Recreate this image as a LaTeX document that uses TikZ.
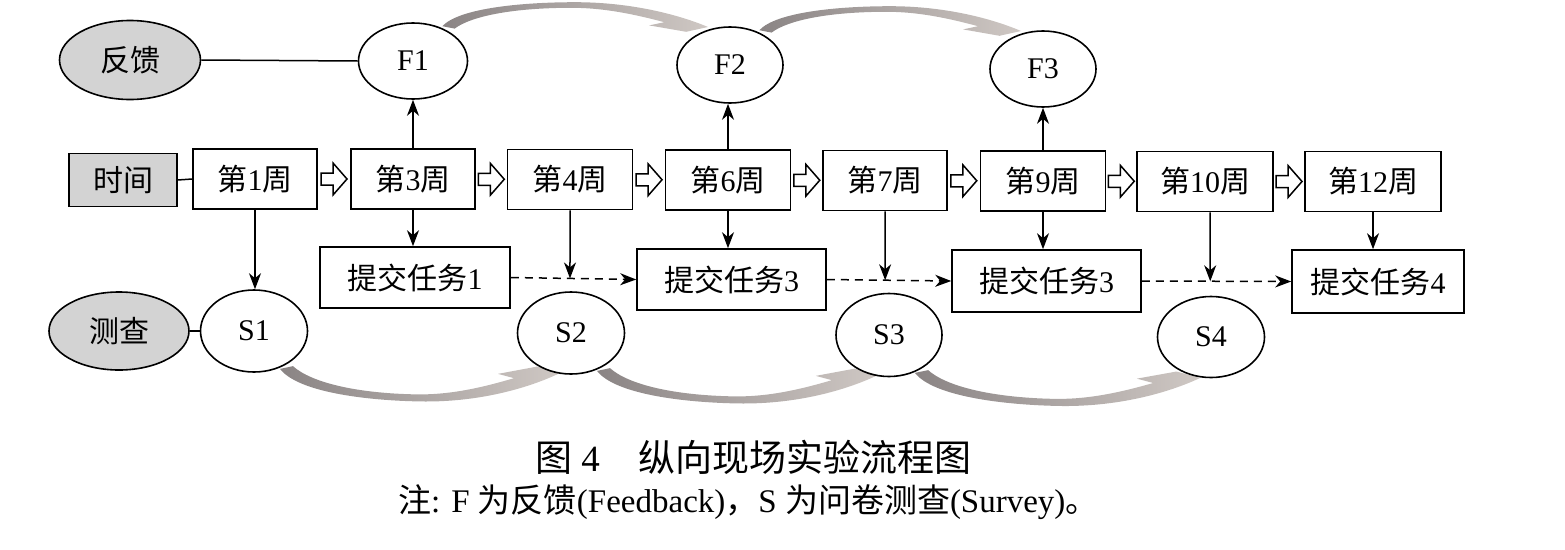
\documentclass[tikz,border=0pt]{standalone}
\usepackage{fontspec}
\setmainfont{Liberation Serif}
\newfontfamily\cjk{Noto Sans CJK SC}
\usetikzlibrary{arrows.meta,shapes.geometric,calc}
\definecolor{gfill}{HTML}{D3D3D3}
\definecolor{gdark}{HTML}{8A8484}
\definecolor{glight}{HTML}{CFC8C4}
\newcommand\zh[1]{{\cjk #1}}
\newcommand\garrow[5]{%
  \pgfmathsetmacro\ga{#3/274}%
  \pgfmathsetmacro\gb{-(#5)/274}%
  \begin{scope}[shift={(#1,#2)},cm={\ga,\gb,0,#4,(0,0)}]
    \shade[left color=gdark,right color=glight]
      (-6,1) .. controls (12,24) and (80,31) .. (134,31)
      .. controls (194,31) and (244,15) .. (274,0)
      -- (251,-6) -- (212,2) -- (228,6)
      .. controls (190,18) and (160,24) .. (130,24)
      .. controls (70,24) and (25,14) .. (7,-2) -- cycle;
  \end{scope}}
\begin{document}
\begin{tikzpicture}[x=1pt,y=-1pt,
  txt/.style={font=\fontsize{30}{30}\selectfont},
  box/.style={draw,line width=1.6pt,minimum height=60pt,inner sep=0pt,txt},
  gbox/.style={box,fill=gfill},
  ell/.style={ellipse,draw,line width=1.6pt,inner sep=0pt,txt},
  gell/.style={ell,fill=gfill},
  arr/.style={-{Stealth[length=16pt,width=12pt,inset=5pt]},line width=1.5pt},
  dashline/.style={arr,dash pattern=on 8pt off 6pt},
  plain/.style={line width=1.5pt},
  hollow/.pic={\draw[line width=1.5pt,line join=miter,fill=white]
     (-13,-6) -- (-1,-6) -- (-1,-16) -- (13,0) -- (-1,16) -- (-1,6) -- (-13,6) -- cycle;}
]
\useasboundingbox (0,0) rectangle (1565,549);

% curved gray arrows
\garrow{448}{27}{260}{-0.8}{0}
\garrow{765}{31}{256}{-0.8}{0}
\garrow{286}{368}{274}{1}{5}
\garrow{603}{370}{275}{1}{5}
\garrow{921}{372}{279}{1}{6}

% feedback row
\node[gell,minimum width=141pt,minimum height=79pt] (fb) at (130,60) {\zh{反馈}};
\node[ell,minimum width=109pt,minimum height=76pt] (F1) at (413,61) {F1};
\node[ell,minimum width=106pt,minimum height=76pt] (F2) at (730,65) {F2};
\node[ell,minimum width=106pt,minimum height=76pt] (F3) at (1043,69) {F3};

% time row
\node[gbox,minimum width=108pt,minimum height=53pt] (time) at (123,180) {\zh{时间}};
\node[box,minimum width=124pt] (w1) at (255,179) {\zh{第}1\zh{周}};
\node[box,minimum width=124pt] (w3) at (413,179) {\zh{第}3\zh{周}};
\node[box,minimum width=125pt] (w4) at (570,179.5) {\zh{第}4\zh{周}};
\node[box,minimum width=125pt] (w6) at (728,180) {\zh{第}6\zh{周}};
\node[box,minimum width=124pt] (w7) at (885,180.5) {\zh{第}7\zh{周}};
\node[box,minimum width=125pt] (w9) at (1043,181) {\zh{第}9\zh{周}};
\node[box,minimum width=136pt] (w10) at (1205,181.5) {\zh{第}10\zh{周}};
\node[box,minimum width=136pt] (w12) at (1373,181.5) {\zh{第}12\zh{周}};

% task row
\node[box,minimum width=190pt,minimum height=61pt] (t1) at (415,277.5) {\zh{提交任务}1};
\node[box,minimum width=189pt,minimum height=61pt] (t2) at (731.5,279.5) {\zh{提交任务}3};
\node[box,minimum width=189pt,minimum height=62pt] (t3) at (1046.5,281) {\zh{提交任务}3};
\node[box,minimum width=172pt,minimum height=63pt] (t4) at (1378,281.5) {\zh{提交任务}4};

% survey row
\node[gell,minimum width=140pt,minimum height=78pt] (cc) at (119,331) {\zh{测查}};
\node[ell,minimum width=107pt,minimum height=82pt] (S1) at (254,331) {S1};
\node[ell,minimum width=107pt,minimum height=82pt] (S2) at (571,333) {S2};
\node[ell,minimum width=106pt,minimum height=83pt] (S3) at (889,335) {S3};
\node[ell,minimum width=107pt,minimum height=81pt] (S4) at (1211,337) {S4};

% plain links
\draw[plain] (fb.east) -- (F1.west);
\draw[plain] (time.east) -- (w1.west);
\draw[plain] (cc.east) -- (S1.west);

% hollow arrows between weeks
\path ($(w1.east)!0.5!(w3.west)$) pic {hollow};
\path ($(w3.east)!0.5!(w4.west)$) pic {hollow};
\path ($(w4.east)!0.5!(w6.west)$) pic {hollow};
\path ($(w6.east)!0.5!(w7.west)$) pic {hollow};
\path ($(w7.east)!0.5!(w9.west)$) pic {hollow};
\path ($(w9.east)!0.5!(w10.west)$) pic {hollow};
\path ($(w10.east)!0.5!(w12.west)$) pic {hollow};

% arrows up to feedback
\draw[arr] (w3.north) -- (w3.north |- F1.south);
\draw[arr] (w6.north) -- (w6.north |- F2.south);
\draw[arr] (w9.north) -- (w9.north |- F3.south);

% arrows down to tasks
\draw[arr] (w1.south) -- (w1.south |- S1.north);
\draw[arr] (w3.south) -- (w3.south |- t1.north);
\draw[arr] (w6.south) -- (w6.south |- t2.north);
\draw[arr] (w9.south) -- (w9.south |- t3.north);
\draw[arr] (w12.south) -- (w12.south |- t4.north);

% dashed links between tasks
\draw[dashline] (t1.east) -- (t2.west);
\draw[dashline] (t2.east) -- (t3.west);
\draw[dashline] (t3.east) -- (t4.west);

% arrows down to dashed links
\coordinate (w10s) at ([xshift=5pt]w10.south);
\coordinate (w10n) at ([xshift=5pt]w10.north);
\draw[arr] (w4.south) -- (intersection of w4.south--w4.north and t1.east--t2.west);
\draw[arr] (w7.south) -- (intersection of w7.south--w7.north and t2.east--t3.west);
\draw[arr] (w10s) -- (intersection of w10s--w10n and t3.east--t4.west);

% caption
\node[anchor=west,inner sep=0pt,font=\fontsize{37}{37}\selectfont] (cap) at (535,457)
  {\zh{图} 4\hspace{39pt}\zh{纵向现场实验流程图}};
\node[anchor=west,inner sep=0pt,font=\fontsize{33}{33}\selectfont] (note) at (398,502)
  {\zh{注}: F \zh{为反馈}(Feedback)\zh{，}S \zh{为问卷测查}(Survey)\zh{。}};
\end{tikzpicture}
\end{document}
